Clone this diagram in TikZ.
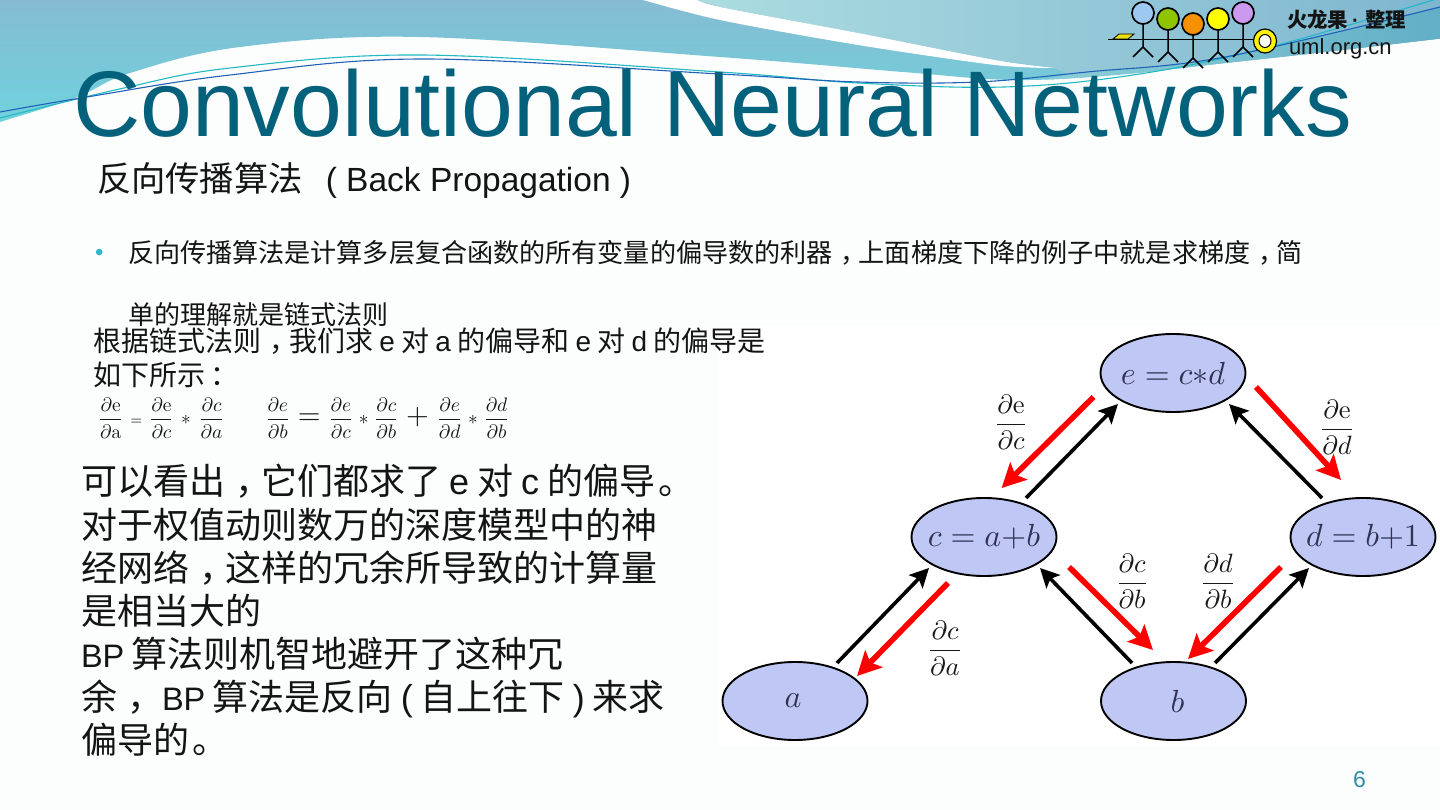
\documentclass[tikz,border=0pt]{standalone}
\usepackage[no-math]{fontspec}
\usepackage{amsmath}
\setmainfont{Liberation Sans}
\newfontfamily\cjk{Noto Sans CJK SC}
\newfontfamily\latf{Liberation Sans}
\usetikzlibrary{shapes.geometric,arrows.meta,calc}
\definecolor{titleblue}{HTML}{04617B}
\definecolor{nodefill}{HTML}{BFC8F4}
\definecolor{nodeink}{HTML}{2F3354}
\definecolor{pagebg}{HTML}{FCFDFD}
\definecolor{lineteal}{HTML}{22B8C4}
\definecolor{lineblue}{HTML}{1F62B8}
\definecolor{bandtop}{HTML}{86BAD2}
\definecolor{bandlow}{HTML}{6FD2DC}
\definecolor{upl}{HTML}{ABDCE0}
\definecolor{upr}{HTML}{7FB6D0}
\definecolor{stripl}{HTML}{8FD2D8}
\definecolor{stripr}{HTML}{62AEC6}
\newcommand{\pf}[2]{\dfrac{\partial #1}{\partial #2}}
\newcommand{\Fs}[1]{\fontsize{#1}{#1}\selectfont}
\newcommand{\cmm}{\kern.3em，\kern-.3em}
\newcommand{\bigop}[1]{\mathbin{\scalebox{1.5}{$#1$}}}
\newcommand{\lab}[1]{\makebox[0pt][c]{\scalebox{3.2}{$#1$}}}
\newcommand{\BP}{{\latf\Fs{32.5}BP}}
\tikzset{
  txt/.style={anchor=base west,inner sep=0pt,outer sep=0pt,text=black!92},
  sz/.style={font=\Fs{#1}\cjk},
  var/.style={ellipse,draw=black,line width=1.9pt,fill=nodefill,minimum width=145pt,minimum height=78pt,inner sep=0pt,text=nodeink},
  fwd/.style={draw=black,line width=3.6pt,-{Stealth[length=19pt,width=19pt,inset=4pt]}},
  back/.style={draw=red,line width=5.6pt,-{Stealth[length=24pt,width=24pt,inset=5pt]}},
  headc/.style={draw=black,line width=1.7pt},
  limb/.style={draw=black,line width=1.5pt},
  fracl/.style={inner sep=0pt,text=black!90},
}
\begin{document}
\begin{tikzpicture}[x=1pt,y=-1pt]
\useasboundingbox (0,0) rectangle (1440,810);
\fill[pagebg] (0,0) rectangle (1440,810);
\fill[white] (718,325) rectangle (1440,745);
% waves
\begin{scope}
\clip plot[smooth,tension=0.6] coordinates {(-5,124) (0,122) (75,98) (130,73) (240,47) (420,37) (720,57) (903,72) (1013,80) (1114,75) (1225,63) (1316,53) (1445,38)} -- (1445,-5) -- (-5,-5) -- cycle;
\shade[top color=bandtop,bottom color=bandlow] (-5,-5) rectangle (1445,124);
\shade[left color=upl,right color=upr] (697,-5) -- (697,0) -- (720,7) -- (858,33) -- (995,60) -- (1055,68) -- (1100,90) -- (1445,90) -- (1445,-5) -- cycle;
\shade[left color=stripl,right color=stripr] plot[smooth,tension=0.6] coordinates {(1000,90) (1087,72) (1225,57) (1445,5)} -- (1445,90) -- cycle;
\end{scope}
\fill[white] plot[smooth,tension=0.5] coordinates {(636,-2) (720,20) (858,45) (995,65) (1055,68)} -- plot[smooth,tension=0.5] coordinates {(1055,68) (995,60) (858,33) (720,7) (694,-2)} -- cycle;
\draw[lineteal,line width=1.1pt] plot[smooth,tension=0.6] coordinates {(0,118) (124,88) (230,68) (422,55) (720,72) (858,83) (1004,87) (1133,75) (1270,47) (1440,-2)};
\draw[lineblue,line width=1.1pt] plot[smooth,tension=0.6] coordinates {(0,112) (87,97) (230,75) (422,59) (720,74) (858,82) (977,82) (1087,72) (1225,57) (1440,7)};
% logo
\fill[yellow!90!black,draw=black,line width=0.8pt] (1113,39) -- (1119,34) -- (1134,34) -- (1128,39) -- cycle;
\draw[limb] (1108,39.5) -- (1256,39.5);
\foreach \cx/\cy/\hy/\col in {1143/13/47/9DC8F0,1168/19/52/8FC400,1193/24/58/F59100,1218/19/52/FFFF00,1243/13/47/CC99EE}{
  \definecolor{hc}{HTML}{\col}
  \draw[limb] (\cx,\cy) -- (\cx,\hy) (\cx-10,\hy+10) -- (\cx,\hy) -- (\cx+10,\hy+10);
  \filldraw[headc,fill=hc] (\cx,\cy) ellipse [x radius=11,y radius=11];
}
\filldraw[draw=black,line width=1.2pt,fill=yellow] (1265,41) ellipse [x radius=11.5,y radius=12];
\filldraw[draw=black,line width=1pt,fill=white] (1265,41) ellipse [x radius=6,y radius=6.5];
\node[txt,font=\Fs{20.4}\cjk\bfseries] (logoa) at (1287,28) {火龙果\kern4pt{\latf ·}\kern6pt 整理};
\node[txt,font=\Fs{22}\latf] (logob) at (1289,55) {uml.org.cn};
% title
\node[txt,text=titleblue,font=\Fs{93.2}\latf] (title) at (73,137) {Convolutional Neural Networks};
% heading
\node[txt,font=\Fs{34.3}\cjk] (h) at (97,192) {反向传播算法\kern23pt{\latf\Fs{33.5}( Back Propagation )}};
\node[txt,text={rgb,255:red,49;green,182;blue,201},font=\Fs{24}\latf] (bul) at (95,261) {•};
\node[txt,sz=26.1] (l1) at (128,263) {反向传播算法是计算多层复合函数的所有变量的偏导数的利器\cmm 上面梯度下降的例子中就是求梯度\cmm 简};
\node[txt,sz=26] (l2) at (128,324) {单的理解就是链式法则};
\node[txt,sz=28] (l3) at (93,351) {根据链式法则\cmm 我们求 {\latf e} 对 {\latf a} 的偏导和 {\latf e} 对 {\latf d} 的偏导是};
\node[txt,sz=28] (l4) at (93,385) {如下所示\kern.2em：};
% formulas
\node[fracl,anchor=west] (f1) at (97.5,418) {\scalebox{1.95}{$\displaystyle\pf{\mathrm{e}}{\mathrm{a}}\kern1.8pt\,{\scriptstyle=}\,\kern1.8pt\pf{\mathrm{e}}{c}\kern1pt\;{*}\;\kern1pt\pf{c}{a}$}};
\node[fracl,anchor=west] (f2) at (265,418) {\scalebox{1.95}{$\displaystyle\pf{e}{b}\,\bigop{=}\,\pf{e}{c}\;{*}\;\pf{c}{b}\,\bigop{+}\,\pf{e}{d}\;{*}\;\pf{d}{b}$}};
% big text
\node[txt,sz=36] (b1) at (81,494) {可以看出\cmm 它们都求了 {\latf e} 对 {\latf c} 的偏导\kern.1em。};
\node[txt,sz=36] (b2) at (81,538) {对于权值动则数万的深度模型中的神};
\node[txt,sz=36] (b3) at (81,581) {经网络\cmm 这样的冗余所导致的计算量};
\node[txt,sz=36] (b4) at (81,624) {是相当大的};
\node[txt,sz=36] (b5) at (81,667) {\BP\kern7.5pt 算法则机智地避开了这种冗};
\node[txt,sz=36] (b6) at (81,710) {余\cmm\kern9pt\BP\kern7.5pt 算法是反向{\latf \kern8pt(\kern8pt}自上往下{\latf \kern8pt)\kern8pt}来求};
\node[txt,sz=36] (b7) at (81,753) {偏导的\kern.1em。};
\node[txt,text={rgb,255:red,46;green,140;blue,168},font=\Fs{23}\latf] (pg) at (1353,787) {6};
% graph
\node[var] (e) at (1173,373) {\lab{e=c{*}d}};
\node[var] (c) at (984,537) {\lab{c=a{+}b}};
\node[var] (d) at (1363,537) {\lab{d=b{+}1}};
\node[var] (a) at (795,701) {\kern-4pt\lab{a}};
\node[var] (b) at (1173.5,701) {\kern8pt\lab{b}};
\draw[fwd] ($(c)+(42,-39)$) -- ($(e)+(-55,31)$);
\draw[back] ($(e)+(-79.5,24)$) -- ($(c)+(17.6,-49)$);
\draw[back] ($(e)+(83,14)$) -- ($(d)+(-22,-57)$);
\draw[fwd] ($(d)+(-41,-39)$) -- ($(e)+(56,31)$);
\draw[fwd] ($(a)+(42,-38)$) -- ($(c)+(-55,31)$);
\draw[back] ($(c)+(-36,46)$) -- ($(a)+(62,-25)$);
\draw[fwd] ($(b)+(-41.5,-38)$) -- ($(c)+(56,31)$);
\draw[back] ($(c)+(85,30)$) -- ($(b)+(-20.5,-51)$);
\draw[back] ($(d)+(-82,30)$) -- ($(b)+(14.5,-42)$);
\draw[fwd] ($(b)+(41.5,-38)$) -- ($(d)+(-54,31)$);
\node[fracl] (pe1) at (1011,422) {\scalebox{2.65}{$\displaystyle\pf{\mathrm{e}}{c}$}};
\node[fracl] (pe2) at (1337,427) {\scalebox{2.65}{$\displaystyle\pf{\mathrm{e}}{d}$}};
\node[fracl] (pc1) at (1132,581) {\scalebox{2.65}{$\displaystyle\pf{c}{b}$}};
\node[fracl] (pd1) at (1218,581) {\scalebox{2.65}{$\displaystyle\pf{d}{b}$}};
\node[fracl] (pc2) at (945,648) {\scalebox{2.65}{$\displaystyle\pf{c}{a}$}};
\end{tikzpicture}
\end{document}
